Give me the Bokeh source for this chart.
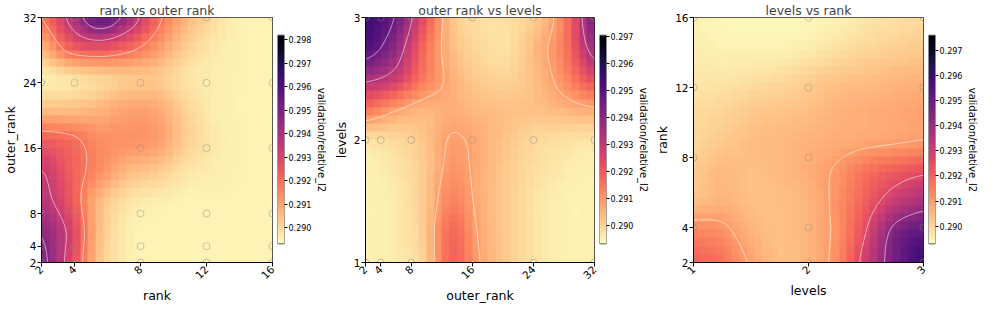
import math
import numpy as np
from bokeh.plotting import figure
from bokeh.layouts import row
from bokeh.models import Range1d, FixedTicker, LinearColorMapper, PrintfTickFormatter
from bokeh.palettes import Magma256
from bokeh.embed import file_html
from bokeh.resources import INLINE

# ---------------- data ----------------
rank_vals = [2, 4, 8, 12, 16]
outer_rank_vals = [2, 4, 8, 16, 24, 32]
levels_vals = [1, 2, 3]

# surfaces: 9x9 samples over each panel,
# rows top -> bottom, columns left -> right, in units of 1e-4 above 0.289
rank_outer_grid = [
    [28, 47, 66, 52, 31, 17, 9, 5, 5],
    [17, 32, 36, 31, 22, 12, 7, 5, 5],
    [6, 8, 11, 13, 13, 8, 6, 5, 5],
    [15, 15, 17, 20, 19, 11, 6, 5, 5],
    [33, 30, 24, 23, 21, 12, 7, 5, 5],
    [44, 33, 24, 16, 13, 8, 6, 5, 5],
    [48, 35, 16, 8, 6, 5, 5, 5, 5],
    [56, 41, 15, 6, 5, 5, 5, 5, 5],
    [60, 39, 14, 6, 5, 5, 5, 5, 5],
]
outer_levels_grid = [
    [64, 56, 33, 13, 8, 8, 12, 25, 53],
    [61, 49, 28, 14, 9, 8, 15, 25, 46],
    [44, 38, 25, 16, 11, 10, 14, 22, 33],
    [25, 19, 15, 16, 14, 13, 13, 15, 17],
    [8, 9, 12, 18.5, 16, 12, 9, 8, 7],
    [5, 7, 11, 20, 16, 11, 8, 6, 5],
    [5, 6, 11, 23, 16, 11, 7, 5, 5],
    [5, 6, 11, 27, 17, 11, 7, 5, 5],
    [5, 6, 10, 28, 18, 11, 7, 5, 5],
]
levels_rank_grid = [
    [5, 4, 4, 4, 4, 5, 7, 8, 9],
    [6, 5, 5, 5, 6, 8, 10, 11, 12],
    [7, 7, 8, 9, 11, 13, 14, 15, 16],
    [9, 10, 12, 13, 14, 16, 17, 18, 19],
    [10, 12, 14, 15, 16, 17, 18, 19, 20],
    [12, 15, 14, 15, 17, 21, 27, 31, 34],
    [14, 16, 14, 14, 16, 22, 31, 41, 47],
    [24, 22, 16, 14, 16, 22, 36, 55, 62],
    [30, 27, 19, 14, 16, 23, 40, 58, 69],
]

cbar_ranges = [(0.2893, 0.2982), (0.2893, 0.29705), (0.2893, 0.2976)]
cbar_ticks = [
    [0.290, 0.291, 0.292, 0.293, 0.294, 0.295, 0.296, 0.297, 0.298],
    [0.290, 0.291, 0.292, 0.293, 0.294, 0.295, 0.296, 0.297],
    [0.290, 0.291, 0.292, 0.293, 0.294, 0.295, 0.296, 0.297],
]
contour_levels = [
    [0.2918, 0.2934, 0.2947],
    [0.2908, 0.2932, 0.2946],
    [0.2910, 0.2926, 0.2942],
]

FONT = "DejaVu Sans"
PAL = list(reversed(Magma256))
H = 305
TOP, BOTTOM = 13, 34
# colorbar occupies the frame height minus these fractions (top, bottom)
CB_GAP_TOP, CB_GAP_BOTTOM = 19 / 263, 20 / 263


def cubic_weights(n_src, coords):
    W = np.zeros((len(coords), n_src))
    for i, t in enumerate(coords):
        k = int(np.floor(t))
        f = t - k
        for off in range(-1, 3):
            idx = min(max(k + off, 0), n_src - 1)
            d = abs(off - f)
            if d < 1:
                w = 1.5 * d ** 3 - 2.5 * d ** 2 + 1
            elif d < 2:
                w = -0.5 * d ** 3 + 2.5 * d ** 2 - 4 * d + 2
            else:
                w = 0.0
            W[i, idx] += w
    return W


def surface(grid, coords_x, coords_y):
    g = np.array(grid, dtype=float)[::-1] * 1e-4 + 0.289
    n = g.shape[0] - 1
    Wx = cubic_weights(g.shape[1], coords_x * n)
    Wy = cubic_weights(g.shape[0], coords_y * n)
    return Wy @ g @ Wx.T


def style_axes(p):
    for ax in p.axis:
        ax.major_tick_out = 4
        ax.major_tick_in = 0
        ax.minor_tick_line_color = None
        ax.axis_line_color = "black"
        ax.major_tick_line_color = "black"
        ax.major_label_text_font = FONT
        ax.major_label_text_font_size = "10.5px"
        ax.major_label_text_color = "black"
        ax.major_label_text_line_height = 1.0
        ax.axis_label_text_font = FONT
        ax.axis_label_text_font_size = "12.5px"
        ax.axis_label_text_font_style = "normal"
        ax.axis_label_text_color = "black"
        ax.axis_label_text_line_height = 1.0
        ax.major_label_standoff = 1
        ax.axis_label_standoff = 2


def panel(title, xlab, ylab, xt, yt, grid, crange, levels, lb, rb, fw):
    x0, x1 = xt[0], xt[-1]
    y0, y1 = yt[0], yt[-1]
    mapper = LinearColorMapper(palette=PAL, low=crange[0], high=crange[1])
    p = figure(width=lb + fw + rb, height=H, x_range=Range1d(x0, x1), y_range=Range1d(y0, y1),
               output_backend="svg", toolbar_location=None, title=title,
               min_border_left=lb, min_border_right=rb, min_border_top=TOP,
               min_border_bottom=BOTTOM)
    p.title.text_font = FONT
    p.title.text_font_size = "12.5px"
    p.title.text_font_style = "normal"
    p.title.text_line_height = 1.0
    p.title.align = "center"
    p.title.standoff = 0
    p.grid.visible = False
    p.outline_line_color = "black"
    p.outline_line_alpha = 0.85
    p.background_fill_color = "white"

    cells = 30
    cc = (np.arange(cells) + 0.5) / cells
    img = surface(grid, cc, cc)
    img = np.repeat(np.repeat(img, 8, axis=0), 8, axis=1)
    p.image(image=[img], x=x0, y=y0, dw=x1 - x0, dh=y1 - y0, color_mapper=mapper)

    fc = np.linspace(0, 1, 121)
    Z = surface(grid, fc, fc)
    X, Y = np.meshgrid(x0 + fc * (x1 - x0), y0 + fc * (y1 - y0))
    p.contour(x=X, y=Y, z=Z, levels=levels, line_color="white", line_alpha=0.55, line_width=1)

    px, py = np.meshgrid(xt, yt)
    p.scatter(x=px.ravel(), y=py.ravel(), size=7, marker="circle", fill_alpha=0,
              line_color="#8c8c8c", line_alpha=0.45, line_width=1)

    p.xaxis.ticker = FixedTicker(ticks=xt)
    p.yaxis.ticker = FixedTicker(ticks=yt)
    p.xaxis.major_label_orientation = math.pi / 4
    p.xaxis.axis_label = xlab
    p.yaxis.axis_label = ylab
    style_axes(p)
    return p, mapper


def cbar(mapper, crange, ticks, cw, rb):
    low, high = crange
    span = (high - low) / (1 - CB_GAP_TOP - CB_GAP_BOTTOM)
    r0 = low - span * CB_GAP_BOTTOM
    r1 = r0 + span
    c = figure(width=cw + rb, height=H, x_range=Range1d(0, 1), y_range=Range1d(r0, r1),
               output_backend="svg", toolbar_location=None, x_axis_location=None,
               y_axis_location="right", min_border_left=0, min_border_right=rb,
               min_border_top=TOP, min_border_bottom=BOTTOM)
    grad = np.linspace(low, high, 256).reshape(256, 1)
    c.image(image=[grad], x=0, y=low, dw=1, dh=high - low, color_mapper=mapper)
    c.quad(left=[0], right=[1], bottom=[low], top=[high], fill_color=None,
           line_color="#555555", line_width=1)
    c.grid.visible = False
    c.outline_line_color = None
    c.background_fill_color = None
    c.border_fill_color = None
    c.yaxis.ticker = FixedTicker(ticks=ticks)
    c.yaxis.formatter = PrintfTickFormatter(format="%.3f")
    c.yaxis.axis_label = "validation/relative_l2"
    style_axes(c)
    c.yaxis.major_label_text_font_size = "8px"
    c.yaxis.axis_label_text_font_size = "10px"
    c.yaxis.major_tick_out = 3
    c.yaxis.major_label_standoff = 1
    c.yaxis.axis_label_standoff = 2
    c.yaxis.axis_line_color = None
    return c


FW = 234
p1, m1 = panel("rank vs outer rank", "rank", "outer_rank", rank_vals, outer_rank_vals,
               rank_outer_grid, cbar_ranges[0], contour_levels[0], 38, 5, FW)
p2, m2 = panel("outer rank vs levels", "outer_rank", "levels", outer_rank_vals, levels_vals,
               outer_levels_grid, cbar_ranges[1], contour_levels[1], 30, 5, FW)
p3, m3 = panel("levels vs rank", "levels", "rank", levels_vals, rank_vals,
               levels_rank_grid, cbar_ranges[2], contour_levels[2], 37, 5, FW)

c1 = cbar(m1, cbar_ranges[0], cbar_ticks[0], 11, 42)
c2 = cbar(m2, cbar_ranges[1], cbar_ticks[1], 11, 42)
c3 = cbar(m3, cbar_ranges[2], cbar_ticks[2], 11, 42)

layout = row(p1, c1, p2, c2, p3, c3, spacing=0)
open("out.html", "w").write(file_html(layout, INLINE))
